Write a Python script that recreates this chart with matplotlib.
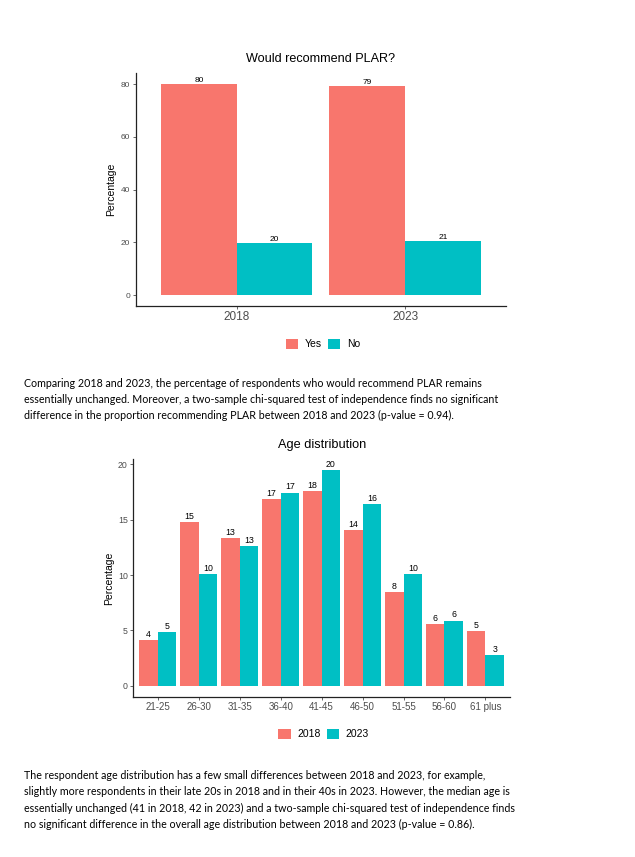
import matplotlib
matplotlib.use("Agg")
import matplotlib.pyplot as plt
import matplotlib.patches as patches
import numpy as np

# --- data ---
years = ["2018", "2023"]
recommend_yes = [80.2, 79.3]
recommend_no = [19.8, 20.7]

age_groups = ["21-25", "26-30", "31-35", "36-40", "41-45", "46-50", "51-55", "56-60", "61 plus"]
age_2018 = [4.15, 14.8, 13.35, 16.9, 17.6, 14.1, 8.45, 5.6, 4.95]
age_2023 = [4.85, 10.1, 12.6, 17.45, 19.5, 16.4, 10.1, 5.9, 2.8]

para1 = [
    "Comparing 2018 and 2023, the percentage of respondents who would recommend PLAR remains",
    "essentially unchanged. Moreover, a two-sample chi-squared test of independence finds no significant",
    "difference in the proportion recommending PLAR between 2018 and 2023 (p-value = 0.94).",
]
para2 = [
    "The respondent age distribution has a few small differences between 2018 and 2023, for example,",
    "slightly more respondents in their late 20s in 2018 and in their 40s in 2023. However, the median age is",
    "essentially unchanged (41 in 2018, 42 in 2023) and a two-sample chi-squared test of independence finds",
    "no significant difference in the overall age distribution between 2018 and 2023 (p-value = 0.86).",
]

RED = "#F8766D"
TEAL = "#00BFC4"
GREY = "#4D4D4D"
W, H = 635, 857

plt.rcParams["font.family"] = ["Liberation Sans", "DejaVu Sans"]

fig = plt.figure(figsize=(W / 100, H / 100), dpi=100)


def px_axes(left, top, right, bottom):
    return fig.add_axes([left / W, 1 - bottom / H, (right - left) / W, (bottom - top) / H])


def style(ax, xsize, ysize):
    for s in ["top", "right"]:
        ax.spines[s].set_visible(False)
    for s in ["left", "bottom"]:
        ax.spines[s].set_linewidth(0.9)
        ax.spines[s].set_color("#222222")
    ax.tick_params(axis="x", length=2, width=0.6, colors=GREY, labelsize=xsize, pad=2)
    ax.tick_params(axis="y", length=2, width=0.6, colors=GREY, labelsize=ysize, pad=2)


def legend(ax, labels, y):
    handles = [patches.Patch(facecolor=RED, edgecolor="none"),
               patches.Patch(facecolor=TEAL, edgecolor="none")]
    ax.legend(handles, labels, ncol=2, loc="center", frameon=False,
              bbox_to_anchor=(0.5 * (ax.get_position().x0 + ax.get_position().x1) + 2 / W, 1 - y / H),
              bbox_transform=fig.transFigure, fontsize=7.5,
              handlelength=1.2, handleheight=1.2, handletextpad=0.6, columnspacing=0.6)


# --- chart 1: would recommend PLAR ---
ax1 = px_axes(135.7, 73, 506, 305.7)
x = np.arange(1, len(years) + 1)
w = 0.45
ax1.bar(x - w / 2, recommend_yes, width=w, color=RED)
ax1.bar(x + w / 2, recommend_no, width=w, color=TEAL)
for xi, v in zip(x - w / 2, recommend_yes):
    ax1.annotate(f"{round(v)}", (xi, v), xytext=(0, 0), textcoords="offset points",
                 ha="center", va="bottom", fontsize=6)
for xi, v in zip(x + w / 2, recommend_no):
    ax1.annotate(f"{round(v)}", (xi, v), xytext=(0, 0), textcoords="offset points",
                 ha="center", va="bottom", fontsize=6)
ax1.set_xlim(0.4, len(years) + 0.6)
ax1.set_ylim(-4, 84.2)
ax1.set_xticks(x)
ax1.set_xticklabels(years)
ax1.set_yticks([0, 20, 40, 60, 80])
style(ax1, 8.5, 6)
ax1.set_ylabel("Percentage", fontsize=7.5, labelpad=3)
ax1.set_title("Would recommend PLAR?", fontsize=9.1, pad=8)
legend(ax1, ["Yes", "No"], 344)

# --- chart 2: age distribution ---
ax2 = px_axes(133.3, 459, 510, 696.7)
x2 = np.arange(1, len(age_groups) + 1)
ax2.bar(x2 - w / 2, age_2018, width=w, color=RED)
ax2.bar(x2 + w / 2, age_2023, width=w, color=TEAL)
for xi, v in zip(x2 - w / 2, age_2018):
    ax2.annotate(f"{round(v)}", (xi, v), xytext=(0, 0.8), textcoords="offset points",
                 ha="center", va="bottom", fontsize=6.3)
for xi, v in zip(x2 + w / 2, age_2023):
    ax2.annotate(f"{round(v)}", (xi, v), xytext=(0, 0.8), textcoords="offset points",
                 ha="center", va="bottom", fontsize=6.3)
ax2.set_xlim(0.4, len(age_groups) + 0.6)
ax2.set_ylim(-0.975, 20.475)
ax2.set_xticks(x2)
ax2.set_xticklabels(age_groups)
ax2.set_yticks([0, 5, 10, 15, 20])
style(ax2, 7, 6.3)
ax2.set_ylabel("Percentage", fontsize=7.5, labelpad=3)
ax2.set_title("Age distribution", fontsize=9.2, pad=8)
legend(ax2, ["2018", "2023"], 734)

# --- paragraphs ---
for i, line in enumerate(para1):
    fig.text(24 / W, 1 - (386.7 + 16.3 * i) / H, line, fontsize=7.65,
             family="Lato", va="baseline", ha="left")
for i, line in enumerate(para2):
    fig.text(24 / W, 1 - (779 + 16.3 * i) / H, line, fontsize=7.65,
             family="Lato", va="baseline", ha="left")

fig.savefig("out.png", dpi=100)
